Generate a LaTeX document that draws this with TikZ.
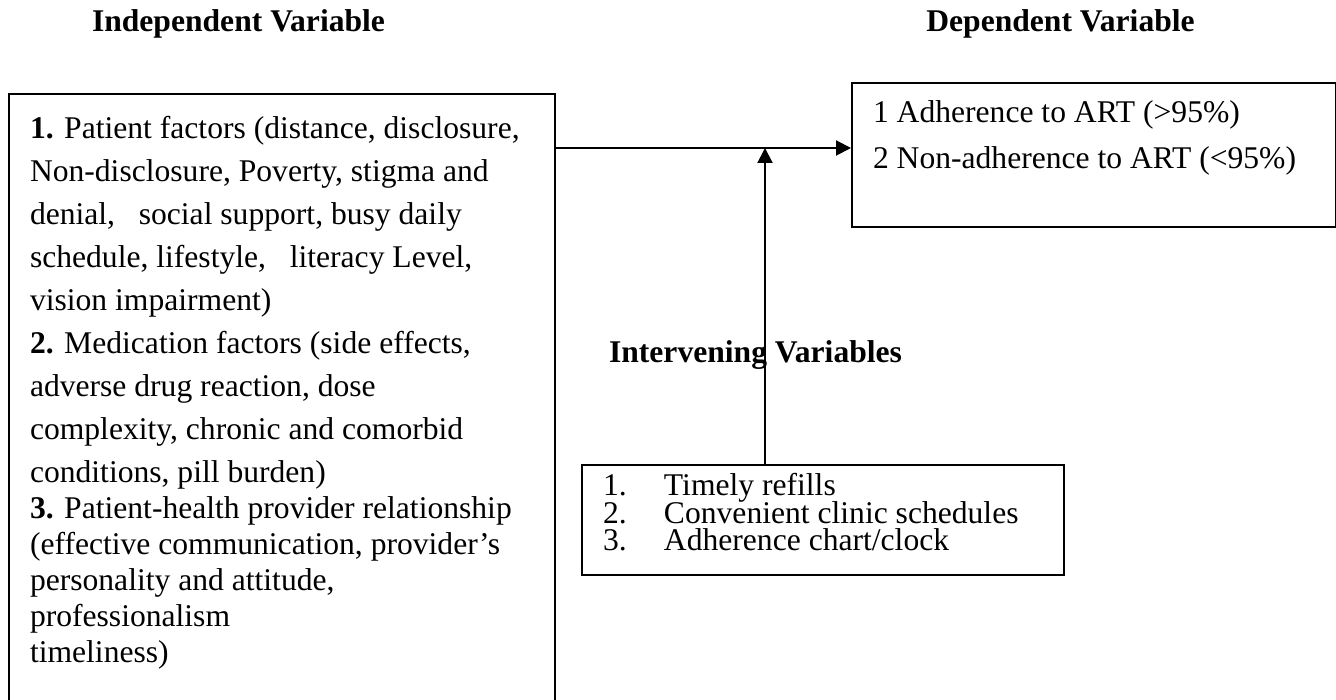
\documentclass[tikz,border=0pt]{standalone}
\usepackage{fontspec}
\setmainfont{Liberation Serif}
\usepackage{tikz}
\usetikzlibrary{arrows.meta}

\begin{document}
\begin{tikzpicture}[x=.5pt,y=.5pt,
    varbox/.style={draw, line width=1pt, anchor=north west, align=left, text height=11pt, inner xsep=10.5pt,
      execute at begin node={\spaceskip=0pt\xspaceskip=0pt\lineskiplimit=-50pt}},
    head/.style={font=\fontsize{15.8}{19}\selectfont\bfseries, anchor=base},
    link/.style={line width=1pt, -{Triangle[length=7.5pt,width=7.5pt]}}]
  \useasboundingbox (0,0) rectangle (1336,700);
  % headings
  \node[head] (indeptitle) at (238.5,668) {Independent Variable};
  \node[head] (deptitle) at (1060.5,668) {Dependent Variable};
  % independent factors
  \node[varbox, text width=252pt, text depth=290pt, inner ysep=11.5pt,
        font=\fontsize{15.8}{21.5}\selectfont] (indep) at (8,607)
    {\textbf{1.} Patient factors (distance, disclosure,\\
     Non-disclosure, Poverty, stigma and\\
     denial,\ \ \ social support, busy daily\\
     schedule, lifestyle,\ \ \ literacy Level,\\
     vision impairment)\\
     \textbf{2.} Medication factors (side effects,\\
     adverse drug reaction, dose\\
     complexity, chronic and comorbid\\
     conditions, pill burden)\\[-3.5pt]
     \textbf{3.} Patient-health provider relationship\\[-3.5pt]
     (effective communication, provider's\\[-3.5pt]
     personality and attitude,\\[-3.5pt]
     professionalism\\[-3.5pt]
     timeliness)};
  % outcome
  \node[varbox, text width=221pt, text depth=43pt, inner ysep=9pt,
        font=\fontsize{15.8}{23}\selectfont] (dep) at (851,618)
    {1 Adherence to ART (>95\%)\\
     2 Non-adherence to ART (<95\%)};
  % intervening
  \node[head, anchor=base west] (intervtitle) at (602,337) {Intervening Variables};
  \node[varbox, text width=220pt, text depth=35pt, inner ysep=4.5pt,
        font=\fontsize{15.8}{13.75}\selectfont] (interv) at (581,236)
    {\makebox[30.5pt][l]{1.}Timely refills\\
     \makebox[30.5pt][l]{2.}Convenient clinic schedules\\
     \makebox[30.5pt][l]{3.}Adherence chart/clock};
  % arrows
  \coordinate (meet) at (765,552);
  \draw[link] (indep.east |- meet) -- (dep.west |- meet);
  \draw[link] (interv.north -| meet) -- (meet);
\end{tikzpicture}
\end{document}
